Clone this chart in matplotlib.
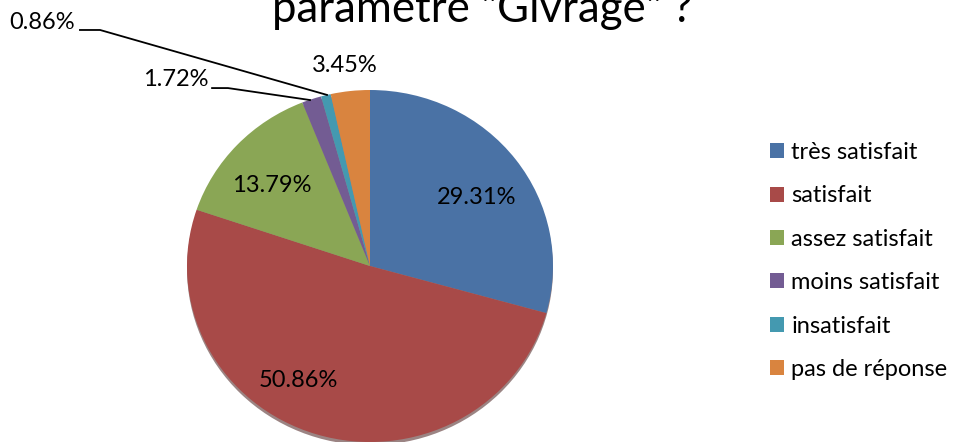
import matplotlib.pyplot as plt
from matplotlib.patches import Patch, Ellipse

categories = ['très satisfait', 'satisfait', 'assez satisfait',
              'moins satisfait', 'insatisfait', 'pas de réponse']
values = [29.31, 50.86, 13.79, 1.72, 0.86, 3.45]
labels = ['29.31%', '50.86%', '13.79%', '1.72%', '0.86%', '3.45%']
colors = ['#4A72A5', '#A84A48', '#8AA655', '#735C93', '#4499B0', '#D9843F']

plt.rcParams['font.family'] = ['Lato', 'DejaVu Sans']

fig = plt.figure(figsize=(9.6, 4.45), dpi=100)

# pie centre ~ (370, 266) px, slightly flattened: rx 183, ry 176
rx, ry, cx, cy = 183, 176, 370, 266
ax = fig.add_axes([(cx - rx) / 960, (445 - cy - ry) / 445, 2 * rx / 960, 2 * ry / 445])
# faint shadow under the pie
ax.add_patch(Ellipse((0.0, -0.018), 2, 2, facecolor='#4a1f1e', alpha=0.55, zorder=0))
wedges, _ = ax.pie(values, colors=colors, startangle=90, counterclock=False,
                   radius=1.0, wedgeprops=dict(linewidth=0))
ax.set_xlim(-1, 1)
ax.set_ylim(-1, 1)
ax.set_aspect('auto')
ax.axis('off')

# labels inside / near the slices
fs = 17
ax.text(0.585, 0.39, labels[0], ha='center', va='center', fontsize=fs)
ax.text(-0.39, -0.65, labels[1], ha='center', va='center', fontsize=fs)
ax.text(-0.535, 0.46, labels[2], ha='center', va='center', fontsize=fs)
ax.text(-0.137, 1.14, labels[5], ha='center', va='center', fontsize=fs, clip_on=False)

# leader lines for the small slices
ax.text(-0.885, 1.057, labels[3], ha='right', va='center', fontsize=fs, clip_on=False)
ax.plot([-0.863, -0.776, -0.328], [1.011, 1.011, 0.943], color='black', lw=1.3, clip_on=False)
ax.text(-1.612, 1.386, labels[4], ha='right', va='center', fontsize=fs, clip_on=False)
ax.plot([-1.585, -1.475, -0.235], [1.341, 1.341, 0.972], color='black', lw=1.3, clip_on=False)

# title (upper part is cut off in the original)
fig.text(0.502, 1 - 22 / 445, 'paramètre "Givrage" ?', ha='center', va='baseline',
         fontsize=31.5)

handles = [Patch(facecolor=c, edgecolor='none') for c in colors]
fig.legend(handles, categories, loc='center left', bbox_to_anchor=(0.79, 1 - 261 / 445),
           frameon=False, fontsize=17, handlelength=0.6, handleheight=0.6,
           handletextpad=0.3, labelspacing=0.95, borderpad=0)

fig.savefig('out.png', dpi=100)
